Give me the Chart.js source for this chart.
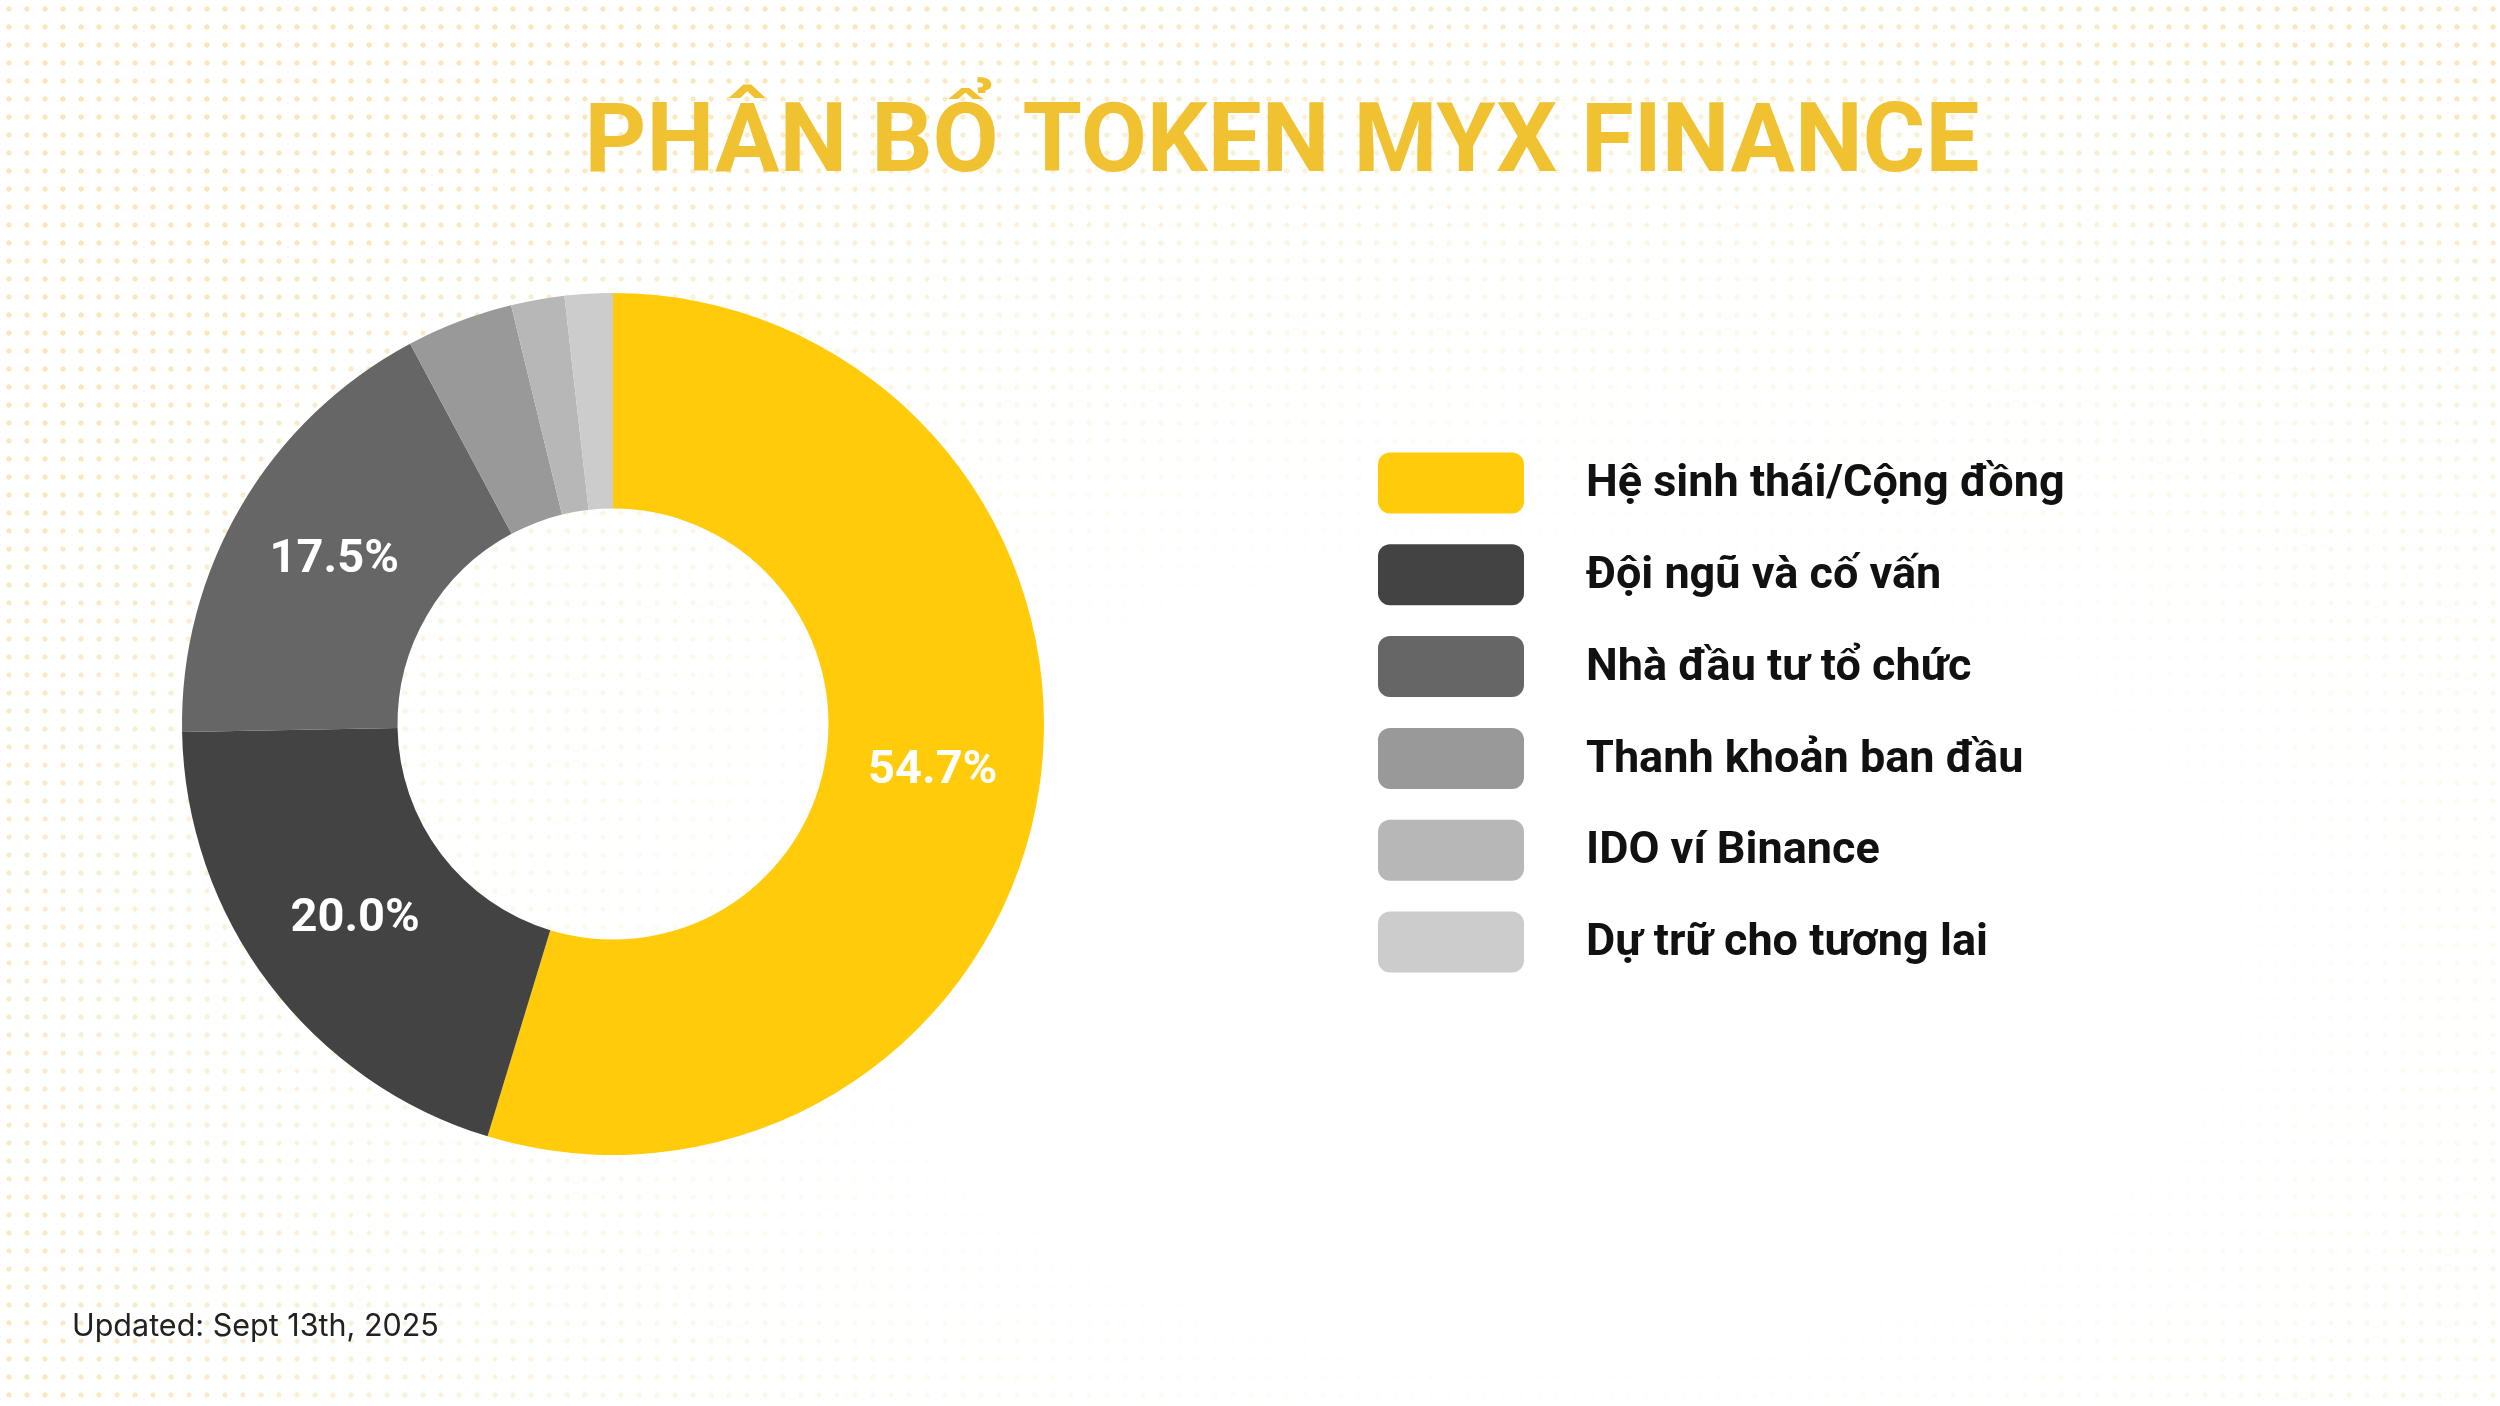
<!DOCTYPE html>
<html lang="vi">
<head>
<meta charset="utf-8">
<title>Phân bổ token MYX Finance</title>
<script src="https://cdn.jsdelivr.net/npm/chart.js@4.4.1/dist/chart.umd.min.js"></script>
<style>
  html, body { margin: 0; padding: 0; }
  body {
    width: 2500px;
    height: 1406px;
    overflow: hidden;
    background-color: #fff;
    background-image:
      radial-gradient(ellipse 70% 75% at 62% 68%, #fff 35%, rgba(255,255,255,0.6) 70%, rgba(255,255,255,0) 100%),
      radial-gradient(circle, rgba(244, 205, 110, 0.5) 2.2px, rgba(255,255,255,0) 3px);
    background-size: 100% 100%, 18px 18px;
  }
  #wrap { position: relative; width: 2500px; height: 1406px; }
</style>
</head>
<body>
<div id="wrap"><canvas id="tokenChart"></canvas></div>
<script>
// data
const categories = [
  "Hệ sinh thái/Cộng đồng",
  "Đội ngũ và cố vấn",
  "Nhà đầu tư tổ chức",
  "Thanh khoản ban đầu",
  "IDO ví Binance",
  "Dự trữ cho tương lai",
];
const shares = [54.7, 20.0, 17.5, 4.0, 2.0, 1.8];
const sliceColors = ["#FFCB0A", "#434343", "#666666", "#999999", "#B7B7B7", "#CCCCCC"];

const chartTitle = "PHÂN BỔ TOKEN MYX FINANCE";
const footnote = "Updated: Sept 13th, 2025";

// percent labels on the big slices
const sliceLabels = {
  id: "sliceLabels",
  afterDatasetsDraw(chart) {
    const ctx = chart.ctx;
    const meta = chart.getDatasetMeta(0);
    ctx.save();
    ctx.fillStyle = "#ffffff";
    ctx.font = "bold 47px Roboto";
    ctx.textAlign = "center";
    ctx.textBaseline = "middle";
    meta.data.forEach((arc, i) => {
      const v = chart.data.datasets[0].data[i];
      if (v < 10) return;
      const p = arc.getCenterPoint();
      ctx.fillText(v.toFixed(1) + "%", p.x, p.y);
    });
    ctx.restore();
  },
};

// title, side legend and footnote
const decor = {
  id: "decor",
  afterDraw(chart) {
    const ctx = chart.ctx;
    const ds = chart.data.datasets[0];
    ctx.save();

    ctx.fillStyle = "#F0C232";
    ctx.font = "bold 96px Roboto";
    ctx.textAlign = "center";
    ctx.textBaseline = "alphabetic";
    ctx.fillText(chartTitle, 1282, 171);

    ctx.textAlign = "left";
    ctx.textBaseline = "middle";
    chart.data.labels.forEach((lab, i) => {
      const cy = 483 + i * 91.8;
      ctx.fillStyle = ds.backgroundColor[i];
      ctx.beginPath();
      ctx.roundRect(1378, cy - 30.5, 146, 61, 12);
      ctx.fill();
      ctx.fillStyle = "#111111";
      ctx.font = "bold 45px Roboto";
      ctx.fillText(lab, 1586, cy + 2);
    });

    ctx.fillStyle = "#222222";
    ctx.font = "30.5px Inter";
    ctx.fillText(footnote, 72, 1327);
    ctx.restore();
  },
};

new Chart(document.getElementById("tokenChart"), {
  type: "doughnut",
  data: {
    labels: categories,
    datasets: [
      {
        data: shares,
        backgroundColor: sliceColors,
        borderWidth: 0,
      },
    ],
  },
  options: {
    responsive: true,
    maintainAspectRatio: false,
    devicePixelRatio: 1,
    animation: false,
    cutout: "50%",
    layout: { padding: { left: 182, right: 1456, top: 293, bottom: 251 } },
    plugins: {
      legend: { display: false },
      tooltip: { enabled: false },
    },
  },
  plugins: [sliceLabels, decor],
});
</script>
</body>
</html>
